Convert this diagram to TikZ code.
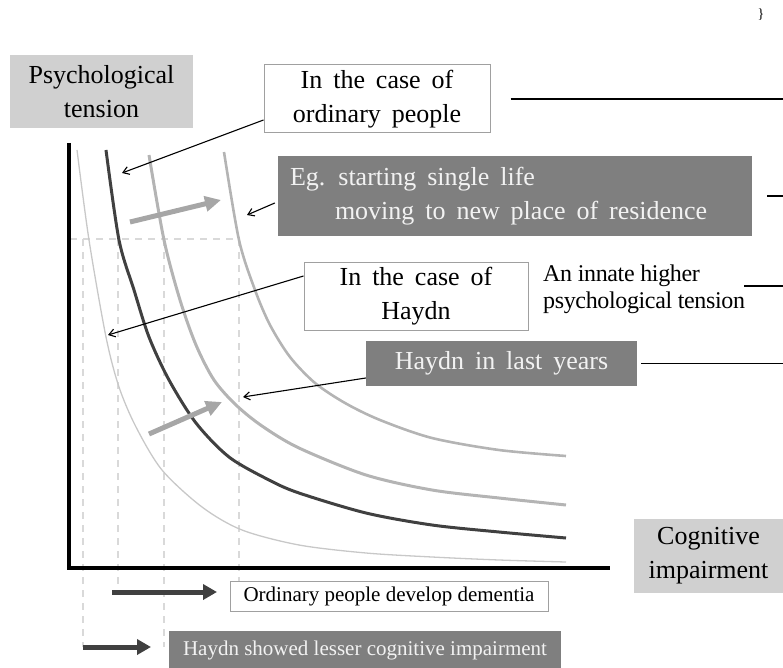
\documentclass[tikz,border=0pt]{standalone}
\usepackage{fontspec}
\setmainfont{Liberation Serif}
\usetikzlibrary{arrows.meta}

\definecolor{boxgray}{HTML}{D0D0D0}
\definecolor{darkfill}{HTML}{7F7F7F}
\definecolor{framegray}{HTML}{A0A0A0}
\definecolor{curvegray}{HTML}{B4B4B4}
\definecolor{thingray}{HTML}{C8C8C8}
\definecolor{darkline}{HTML}{404040}
\definecolor{gridgray}{HTML}{D9D9D9}
\definecolor{shiftgray}{HTML}{A6A6A6}
\definecolor{paletext}{HTML}{F2F2F2}

\begin{document}
\begin{tikzpicture}[
  x=1pt, y=-1pt,
  big text/.style={
      font=\fontsize{26}{34}\selectfont,
      execute at begin node={\spaceskip=0.42em plus 0.1em\relax}
    },
  small text/.style={
      font=\fontsize{21}{26}\selectfont
    },
  axis label/.style={
      big text,
      fill=boxgray,
      draw=none,
      align=center,
      inner sep=0pt
    },
  white box/.style={
      draw=framegray,
      fill=white,
      line width=1pt,
      align=center,
      inner sep=0pt
    },
  dark box/.style={
      fill=darkfill,
      draw=none,
      text=paletext,
      align=center,
      inner sep=0pt
    },
  pointer/.style={
      -{Straight Barb[length=6pt,width=8pt]},
      line width=1.1pt,
      black
    },
  shift arrow/.style={
      -{Triangle[length=16pt,width=15pt]},
      line width=5pt,
      shiftgray
    },
  dark arrow/.style={
      -{Triangle[length=14pt,width=15pt]},
      line width=5pt,
      darkline
    },
  grid line/.style={
      gridgray,
      line width=2pt,
      dash pattern=on 7pt off 6pt
    },
  curve/.style={
      line cap=round,
      smooth,
      tension=0.5
    }]
  \useasboundingbox (0,0) rectangle (783,668);
  \coordinate (edge) at (783,0);

  % dashed guide lines
  \draw [grid line] (70,239) -- (240,239);
  \draw [grid line] (83,239) -- (83,647);
  \draw [grid line] (118,239) -- (118,590);
  \draw [grid line] (164,239) -- (164,647);
  \draw [grid line] (239,239) -- (239,590);

  % curves
  \draw [thingray, line width=1.3pt] plot [curve] coordinates
    {(77,150) (89,240) (106,337) (119,387) (136,427) (162,470) (202,507) (242,530)
     (299,545) (366,553) (432,557) (499,560) (566,562)};
  \draw [darkline, line width=3pt] plot [curve] coordinates
    {(106,150) (119,240) (134,290) (149,337) (169,380) (196,423) (229,457) (269,480)
     (299,493) (366,513) (432,525) (499,532) (566,538)};
  \draw [curvegray, line width=3pt] plot [curve] coordinates
    {(149,155) (164,240) (180,300) (196,345) (214,380) (236,405) (262,426) (299,448)
     (366,475) (432,490) (499,498) (566,505)};
  \draw [curvegray, line width=2.6pt] plot [curve] coordinates
    {(224,152) (239,240) (255,290) (270,325) (290,357) (315,383) (345,403) (380,420)
     (432,438) (499,450) (566,456)};

  % axes
  \draw [black, line width=3.5pt] (69,143) -- (69,568) -- (610,568);

  \node [axis label, minimum width=183pt, minimum height=73pt] (ylabel) at (101.5,91.5)
    {Psychological\\tension};
  \node [axis label, minimum width=149pt, minimum height=74pt] (xlabel) at (708.5,556)
    {Cognitive\\impairment};

  \node [white box, big text, minimum width=226pt, minimum height=68pt] (ordbox) at (377,99)
    {In the case of\\ordinary people};
  \node [dark box, big text, minimum width=474pt, minimum height=80pt,
    text width=450pt, align=left] (egbox) at (515,196)
    {Eg. starting single life\\\hspace*{45pt}moving to new place of residence};
  \node [white box, big text, minimum width=224pt, minimum height=68pt] (haybox) at (416,296)
    {In the case of\\Haydn};
  \node [anchor=west, align=left, inner sep=0pt,
    font=\fontsize{24}{27}\selectfont\addfontfeature{LetterSpace=-1.5}] (innate) at (543,289)
    {An innate higher\\psychological tension};
  \node [dark box, big text, minimum width=271pt, minimum height=45pt] (lastbox) at (501.5,363.5)
    {Haydn in last years};

  \node [white box, small text, minimum width=318pt, minimum height=30pt] (dembox) at (389,596)
    {Ordinary people develop dementia};
  \node [dark box, small text, minimum width=392pt, minimum height=38pt] (lessbox) at (365,650)
    {Haydn showed lesser cognitive impairment};

  \node [inner sep=0pt, font=\fontsize{14}{16}\selectfont] (brace) at (761,15) {\}};

  % leader lines to the right edge
  \draw [line width=1.1pt] ([xshift=20pt]ordbox.east) -- (ordbox.east -| edge);
  \draw [line width=1.1pt] ([xshift=15pt]egbox.east) -- (egbox.east -| edge);
  \draw [line width=1.1pt] ([xshift=-1pt,yshift=3pt]innate.east) -- ([yshift=3pt]innate.east -| edge);
  \draw [line width=1.1pt] ([xshift=4pt]lastbox.east) -- (lastbox.east -| edge);

  % pointers onto the curves
  \coordinate (ordtip) at (122,173);
  \coordinate (egtip) at (247,215);
  \coordinate (haytip) at (108,335);
  \coordinate (lasttip) at (243,397);
  \draw [pointer] ([yshift=-21pt]ordbox.west) -- (ordtip);
  \draw [pointer] ([xshift=-3pt,yshift=-7pt]egbox.west) -- (egtip);
  \draw [pointer] ([yshift=20pt]haybox.west) -- (haytip);
  \draw [pointer] ([yshift=-14.5pt]lastbox.west) -- (lasttip);

  % shifts of the curve
  \coordinate (up_a) at (130,222);
  \coordinate (up_b) at (221,200);
  \coordinate (low_a) at (149,434);
  \coordinate (low_b) at (222,402);
  \draw [shift arrow] (up_a) -- (up_b);
  \draw [shift arrow] (low_a) -- (low_b);

  \coordinate (dem_a) at (112,592);
  \coordinate (dem_b) at (217,592);
  \coordinate (less_a) at (83,647);
  \coordinate (less_b) at (151,647);
  \draw [dark arrow] (dem_a) -- (dem_b);
  \draw [dark arrow] (less_a) -- (less_b);
\end{tikzpicture}
\end{document}
